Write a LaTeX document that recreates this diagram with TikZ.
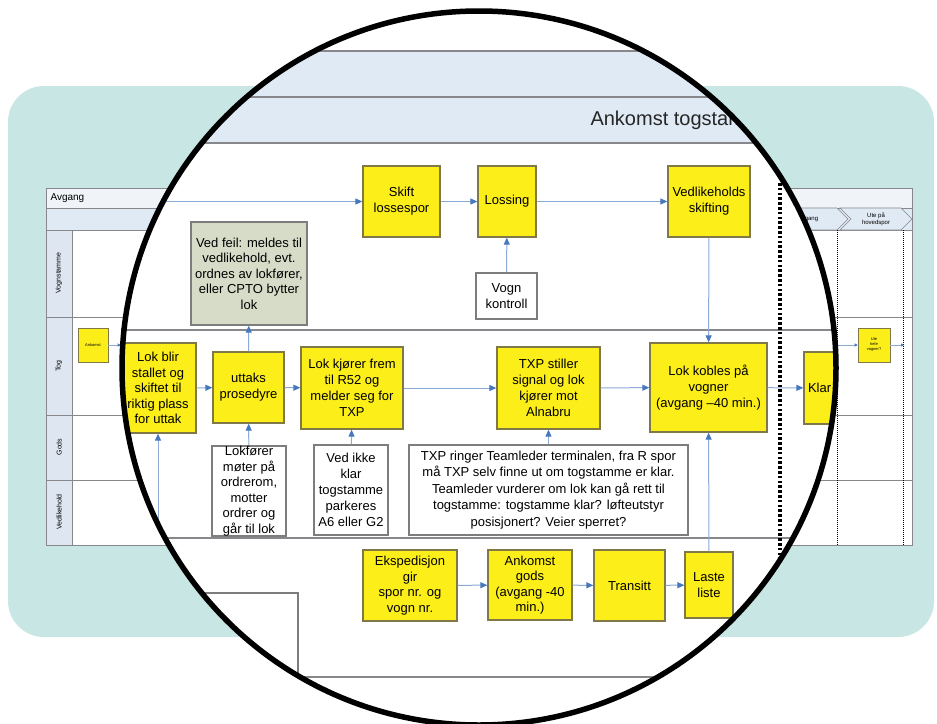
\documentclass[tikz,border=0pt]{standalone}
\usepackage{fontspec}
\setmainfont{Liberation Sans}
\usepackage{xcolor}
\definecolor{tealBg}{RGB}{200,230,227}
\definecolor{bandBlue}{RGB}{224,234,244}
\definecolor{hdrGray}{RGB}{240,243,247}
\definecolor{laneBlue}{RGB}{221,230,241}
\definecolor{procYellow}{RGB}{252,238,25}
\definecolor{procEdge}{RGB}{128,120,70}
\definecolor{noteEdge}{RGB}{125,125,125}
\definecolor{feilGreen}{RGB}{214,220,200}
\definecolor{flowLine}{RGB}{140,170,215}
\definecolor{flowTip}{RGB}{70,120,190}
\definecolor{laneLine}{RGB}{135,135,140}
\usepackage{tikz}
\usetikzlibrary{arrows.meta, positioning, calc, shapes.symbols}
\newcommand{\boxfont}{\fontsize{13}{16}\selectfont}
\newcommand{\tinyfont}{\fontsize{7}{8}\selectfont}

\begin{document}
\begin{tikzpicture}[x=1pt, y=-1pt,
    proc/.style={rectangle, draw=procEdge, fill=procYellow, line width=1.3pt, align=center, inner sep=0pt, font=\boxfont},
    note/.style={rectangle, draw=noteEdge, fill=white, line width=1.2pt, align=center, inner sep=0pt, font=\boxfont},
    sz/.style 2 args={minimum width=#1pt, minimum height=#2pt},
    flow/.style={draw=flowLine, line width=1pt, -{Triangle[length=7pt, width=6pt, color=flowTip]}},
    tinyflow/.style={draw=flowLine, line width=0.6pt, -{Triangle[length=3pt, width=3pt, color=flowTip]}},
    lane/.style={draw=laneLine, line width=1.3pt},
    chev/.style={signal, signal to=east, signal from=west, draw=laneLine, fill=bandBlue, line width=0.6pt, inner sep=0pt, align=center, font=\fontsize{6}{6.5}\selectfont},
  ]
  \useasboundingbox (0,0) rectangle (937,723);
  \fill[white] (0,0) rectangle (937,723);
  \fill[tealBg, rounded corners=36pt] (8,86) rectangle (934,637);

  % small overview chart behind the lens
  \draw[laneLine, fill=white, line width=0.8pt] (46,188) rectangle (912,545);
  \fill[hdrGray] (46.5,188.5) rectangle (911.5,208);
  \fill[bandBlue] (46.5,208) rectangle (911.5,230);
  \fill[laneBlue] (46.5,230) rectangle (72,544.5);
  \draw[laneLine, line width=0.6pt] (46,208) -- (912,208) (46,230) -- (912,230) (72,230) -- (72,545);
  \foreach \yy in {317,415,480}
    \draw[laneLine, line width=0.8pt] (46,\yy) -- (912,\yy);
  \node[anchor=west, font=\fontsize{10}{12}\selectfont] (avg) at (47,198) {Avgang};
  \node[rotate=90, font=\tinyfont] (lvogn) at (59,273) {Vognstamme};
  \node[rotate=90, font=\tinyfont] (ltog) at (59,366) {Tog};
  \node[rotate=90, font=\tinyfont] (lgods) at (59,447) {Gods};
  \node[rotate=90, font=\tinyfont] (lvedl) at (59,512) {Vedlikehold};
  \node[proc, sz={30}{34}, line width=0.6pt, font=\fontsize{4}{5}\selectfont] (ankS) at (93,345) {Ankomst};
  \node[proc, sz={40}{34}, line width=0.6pt] (lokS) at (141,345) {};
  \draw[tinyflow] (ankS) -- (lokS);
  \node[chev, sz={80}{22}] (chAvg) at (808,219) {Avgang};
  \node[chev, sz={72}{22}] (chUte) at (876,219) {Ute på\\hovedspor};
  \draw[black, line width=1pt, dash pattern=on 1pt off 1pt] (837,230) -- (837,545) (903,230) -- (903,545);
  \node[proc, sz={32}{34}, line width=0.6pt, font=\fontsize{4}{5}\selectfont] (uteS) at (874,345) {Ute\\hele\\vogner?};
  \coordinate (klarS) at (825,345);
  \coordinate (uteOut) at (904,345);
  \draw[tinyflow] (klarS) -- (uteS);
  \draw[tinyflow] (uteS) -- (uteOut);

  % lens
  \coordinate (lensc) at (479,368);
  \fill[white] (lensc) circle[radius=357];
  \begin{scope}
    \clip (lensc) circle[radius=357];
    \fill[bandBlue] (0,51) rectangle (937,143);
    \draw[lane] (0,51) -- (937,51) (0,97) -- (937,97) (0,143) -- (937,143);
    \node[anchor=west, font=\fontsize{20}{24}\selectfont, text=black!85] (title) at (587,120) {Ankomst togstamme};
    \draw[lane] (0,330) -- (937,330) (0,538) -- (937,538);
    \draw[lane, line width=2pt] (0,677) -- (937,677);
    \draw[black, line width=3.2pt, dash pattern=on 2.6pt off 2.2pt] (780,183) -- (780,723);

    % Vognstamme
    \node[proc, sz={77}{71}] (skift) at (401.5,201.5) {Skift\\lossespor};
    \node[proc, sz={58}{71}] (lossing) at (507,201.5) {Lossing};
    \node[proc, sz={82}{71}] (vedskift) at (709,201.5) {Vedlikeholds\\skifting};
    \node[note, sz={61}{46}] (vognk) at (506.5,296) {Vogn\\kontroll};
    \node[note, fill=feilGreen, sz={116}{103}, font=\fontsize{13}{15.5}\selectfont] (vedfeil) at (249,273.5)
      {Ved feil: meldes til\\vedlikehold, evt.\\ordnes av lokfører,\\eller CPTO bytter\\lok};
    \coordinate (skiftin) at (100,201.5);

    % Tog
    \node[proc, sz={76}{90}, font=\fontsize{13}{15.5}\selectfont] (lokblir) at (158,388)
      {Lok blir\\stallet og\\skiftet til\\riktig plass\\for uttak};
    \node[proc, sz={71}{71}] (uttaks) at (248.5,387.5) {uttaks\\prosedyre};
    \node[proc, sz={102}{82}] (lokkjorer) at (352,388) {Lok kjører frem\\til R52 og\\melder seg for\\TXP};
    \node[proc, sz={103}{82}] (txpstiller) at (548.5,388) {TXP stiller\\signal og lok\\kjører mot\\Alnabru};
    \node[proc, sz={117}{89}] (lokkobles) at (708.5,387.5) {Lok kobles på\\vogner\\(avgang –40 min.)};
    \node[proc, sz={76}{72}, text width=68pt, align=left] (klar) at (842,388) {Klar};

    % Gods
    \node[note, sz={74}{90}, font=\fontsize{13}{15.5}\selectfont] (lokforer) at (249,491)
      {Lokfører\\møter på\\ordrerom,\\motter\\ordrer og\\går til lok};
    \node[note, sz={74}{90}] (vedikke) at (351,490) {Ved ikke\\klar\\togstamme\\parkeres\\A6 eller G2};
    \node[note, sz={279}{90}, font=\fontsize{13}{16.5}\selectfont] (txpringer) at (548.5,490)
      {TXP ringer Teamleder terminalen, fra R spor\\må TXP selv finne ut om togstamme er klar.\\Teamleder vurderer om lok kan gå rett til\\togstamme: togstamme klar? løfteutstyr\\posisjonert? Veier sperret?};

    % nederste bane
    \node[proc, sz={94}{71}, font=\fontsize{13}{15.5}\selectfont] (eksp) at (410,585.5) {Ekspedisjon\\gir\\spor nr. og\\vogn nr.};
    \node[proc, sz={84}{70}, font=\fontsize{13}{15.5}\selectfont] (ankgods) at (530,585) {Ankomst\\gods\\(avgang -40\\min.)};
    \node[proc, sz={71}{71}] (transitt) at (629.5,585.5) {Transitt};
    \node[proc, sz={48}{66}] (laste) at (709,585) {Laste\\liste};
    \node[note, sz={258}{84}] (blbox) at (169,635) {};

    % flyt
    \draw[flow] (skiftin) -- (skift);
    \draw[flow] (skift) -- (lossing);
    \draw[flow] (lossing) -- (vedskift);
    \draw[flow] (vognk) -- (lossing);
    \draw[flow] (vedskift) -- (lokkobles);
    \draw[flow] (uttaks) -- (vedfeil);
    \draw[flow] (lokblir) -- (uttaks);
    \draw[flow] (uttaks) -- (lokkjorer);
    \draw[flow] (lokkjorer) -- (txpstiller);
    \draw[flow] (txpstiller) -- (lokkobles);
    \draw[flow] (lokkobles) -- (klar);
    \draw[flow] (lokforer) -- (uttaks);
    \draw[flow] (vedikke) -- (lokkjorer);
    \draw[flow] (txpringer) -- (txpstiller);
    \draw[flow] (eksp) -- (ankgods);
    \draw[flow] (ankgods) -- (transitt);
    \draw[flow] (transitt) -- (laste);
    \draw[flow] (laste) -- (lokkobles);
    \draw[flow] (blbox.north -| lokblir.south) -- (lokblir.south);
  \end{scope}
  \draw[black, line width=5.5pt] (lensc) circle[radius=357];
\end{tikzpicture}
\end{document}
